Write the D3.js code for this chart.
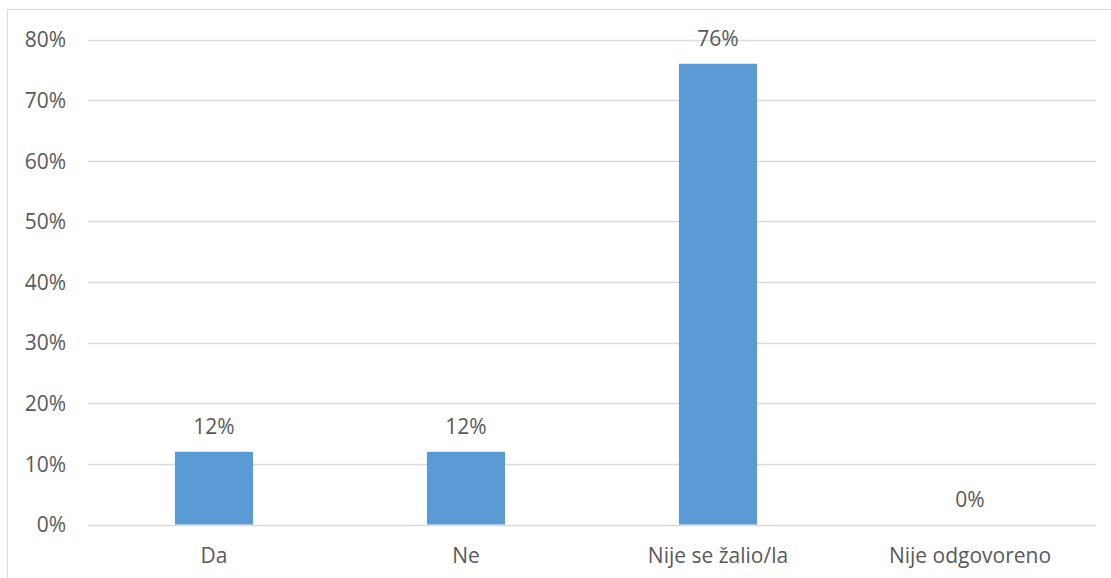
<!DOCTYPE html>
<html><head><meta charset="utf-8">
<script src="https://cdn.jsdelivr.net/npm/d3@7"></script>
<style>body{margin:0;background:#fff}svg{display:block}text{font-family:"Open Sans",sans-serif;fill:#595959}</style>
</head><body><svg id="c" width="1111" height="578"></svg>
<script>
const categories = ["Da","Ne","Nije se žalio/la","Nije odgovoreno"];
const values = [0.12,0.12,0.76,0];
const valueLabels = ["12%","12%","76%","0%"];
const yTicks = [0,0.1,0.2,0.3,0.4,0.5,0.6,0.7,0.8];

const svg = d3.select("#c");
const fs = 21;
svg.append("rect").attr("x",7.5).attr("y",9.5).attr("width",1120).attr("height",600)
  .attr("fill","none").attr("stroke","#d9d9d9").attr("stroke-width",1);

const x = d3.scaleBand().domain(categories).range([88,1096]).paddingInner(0.69).paddingOuter(0.345);
const y = d3.scaleLinear().domain([0,0.8]).range([524.5,39.5]);

const g = svg.append("g");
g.selectAll("line.grid").data(yTicks).join("line").attr("class","grid")
  .attr("x1",88).attr("x2",1096).attr("y1",d=>Math.round(y(d))+0.5).attr("y2",d=>Math.round(y(d))+0.5)
  .attr("stroke","#d9d9d9").attr("stroke-width",1.3);

const yAxis = d3.axisLeft(y).tickValues(yTicks).tickFormat(d3.format(".0%")).tickSize(0).tickPadding(0);
const ya = svg.append("g").attr("transform","translate(66,0)").call(yAxis);
ya.select(".domain").remove();
ya.selectAll("text").attr("font-size",fs).attr("font-family","Open Sans").attr("fill","#595959").attr("dy","0.35em");

g.selectAll("rect.bar").data(values).join("rect").attr("class","bar")
  .attr("x",(d,i)=>x(categories[i])).attr("width",x.bandwidth())
  .attr("y",d=>y(d)).attr("height",d=>y(0)-y(d)).attr("fill","#5b9bd5");

g.selectAll("text.vl").data(values).join("text").attr("class","vl")
  .attr("x",(d,i)=>x(categories[i])+x.bandwidth()/2).attr("y",d=>y(d)-18)
  .attr("text-anchor","middle").attr("font-size",fs).text((d,i)=>valueLabels[i]);

const xAxis = d3.axisBottom(x).tickSize(0).tickPadding(0);
const xa = svg.append("g").attr("transform","translate(0,563)").call(xAxis);
xa.select(".domain").remove();
xa.selectAll("text").attr("font-size",fs).attr("font-family","Open Sans").attr("fill","#595959").attr("dy","0");
</script></body></html>
